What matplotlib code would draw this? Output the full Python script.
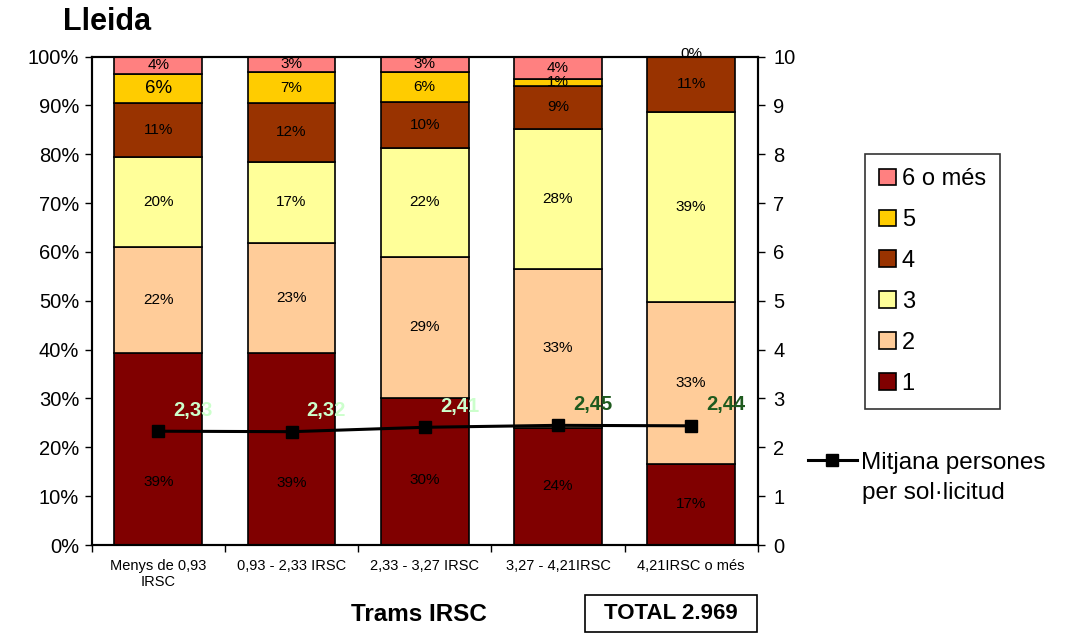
import matplotlib.pyplot as plt
from matplotlib.patches import Rectangle
import numpy as np

plt.rcParams['font.family'] = ['Liberation Sans', 'DejaVu Sans']

categories = ['Menys de 0,93\nIRSC', '0,93 - 2,33 IRSC', '2,33 - 3,27 IRSC',
              '3,27 - 4,21IRSC', '4,21IRSC o més']
series_names = ['1', '2', '3', '4', '5', '6 o més']
colors = ['#800000', '#FFCC99', '#FFFF99', '#993300', '#FFCC00', '#FF8080']

# segment shares (%) per category, bottom to top
seg1 = [39.4, 39.3, 30.1, 24.0, 16.6]
seg2 = [21.7, 22.6, 28.9, 32.6, 33.2]
seg3 = [18.4, 16.5, 22.3, 28.6, 38.9]
seg4 = [10.9, 12.1, 9.4, 8.8, 11.3]
seg5 = [6.0, 6.3, 6.1, 1.4, 0.0]
seg6 = [3.6, 3.2, 3.2, 4.6, 0.0]

# labels as printed on the chart
lab1 = ['39%', '39%', '30%', '24%', '17%']
lab2 = ['22%', '23%', '29%', '33%', '33%']
lab3 = ['20%', '17%', '22%', '28%', '39%']
lab4 = ['11%', '12%', '10%', '9%', '11%']
lab5 = ['6%', '7%', '6%', '1%', '']
lab6 = ['4%', '3%', '3%', '4%', '0%']

mean_persons = [2.33, 2.32, 2.41, 2.45, 2.44]
mean_labels = ['2,33', '2,32', '2,41', '2,45', '2,44']
mean_label_colors = ['#CCFFCC', '#CCFFCC', '#CCFFCC', '#1E5A1E', '#1E5A1E']

segments = [seg1, seg2, seg3, seg4, seg5, seg6]
labels = [lab1, lab2, lab3, lab4, lab5, lab6]

fig = plt.figure(figsize=(10.68, 6.35), dpi=100)
ax = fig.add_axes([0.0859, 0.1417, 0.6236, 0.7693])
x = np.arange(len(categories))

bottom = np.zeros(len(categories))
handles = []
for k, (vals, labs, col, name) in enumerate(zip(segments, labels, colors, series_names)):
    vals = np.array(vals)
    b = ax.bar(x, vals, bottom=bottom, width=0.66, color=col,
               edgecolor='black', linewidth=1.2, label=name)
    handles.append(b)
    for i, (v, t) in enumerate(zip(vals, labs)):
        if not t:
            continue
        yc = bottom[i] + v / 2
        if k == 0:
            # keep the bottom labels clear of the mean line
            yc = min(yc, mean_persons[i] * 10 * 0.55)
        fs = 13.5 if (name == '5' and i == 0) else 11
        if v == 0:
            yc = bottom[i] + 0.6
        ax.text(x[i], yc, t, ha='center', va='center', fontsize=fs, color='black')
    bottom += vals

ax.set_xlim(-0.5, len(categories) - 0.5)
ax.set_ylim(0, 100)
ax.set_yticks(np.arange(0, 101, 10))
ax.set_yticklabels([f'{v}%' for v in range(0, 101, 10)], fontsize=14.5)
ax.set_xticks(x)
ax.set_xticklabels(categories, fontsize=10.5)
ax.set_xticks(np.arange(-0.5, len(categories), 1), minor=True)
ax.tick_params(axis='x', which='major', length=0, pad=10)
ax.tick_params(axis='x', which='minor', length=5, width=1)
ax.tick_params(axis='y', length=5, width=1, pad=4)
for s in ax.spines.values():
    s.set_linewidth(1.5)

ax2 = ax.twinx()
ax2.set_ylim(0, 10)
ax2.set_yticks(range(0, 11))
ax2.set_yticklabels([str(v) for v in range(0, 11)], fontsize=14.5)
ax2.tick_params(axis='y', length=5, width=1, pad=6)
line, = ax2.plot(x, mean_persons, color='black', linewidth=2.2, marker='s',
                 markersize=8)
for xi, yi, t, c in zip(x, mean_persons, mean_labels, mean_label_colors):
    ax2.annotate(t, (xi, yi), xytext=(25, 15), textcoords='offset points',
                 ha='center', va='center', fontsize=14.5, fontweight='bold', color=c)
for s in ax2.spines.values():
    s.set_linewidth(1.5)

fig.text(0.059, 0.965, 'Lleida', fontsize=22, fontweight='bold', ha='left', va='center')
fig.text(0.392, 0.033, 'Trams IRSC', fontsize=17.5, fontweight='bold', ha='center', va='center')
fig.patches.append(Rectangle((0.5478, 0.0047), 0.161, 0.0583, transform=fig.transFigure,
                             facecolor='white', edgecolor='black', linewidth=1.2))
fig.text(0.6283, 0.0339, 'TOTAL 2.969', fontsize=16, fontweight='bold', ha='center', va='center')

leg1 = fig.legend(handles[::-1], series_names[::-1], loc='upper left',
                  bbox_to_anchor=(0.81, 0.7575), borderaxespad=0, fontsize=17,
                  frameon=True, fancybox=False, edgecolor='black',
                  handlelength=0.7, handleheight=0.7, handletextpad=0.25,
                  labelspacing=0.8, borderpad=0.6)
leg1.get_frame().set_linewidth(1.2)
fig.legend([line], ['Mitjana persones'], loc='center left',
           bbox_to_anchor=(0.7566, 0.271), borderaxespad=0, borderpad=0,
           fontsize=17.5, frameon=False, handlelength=2.0, handletextpad=0.16)
fig.text(0.807, 0.224, 'per sol·licitud', fontsize=17.5, ha='left', va='center')

fig.savefig('out.png', dpi=100)
